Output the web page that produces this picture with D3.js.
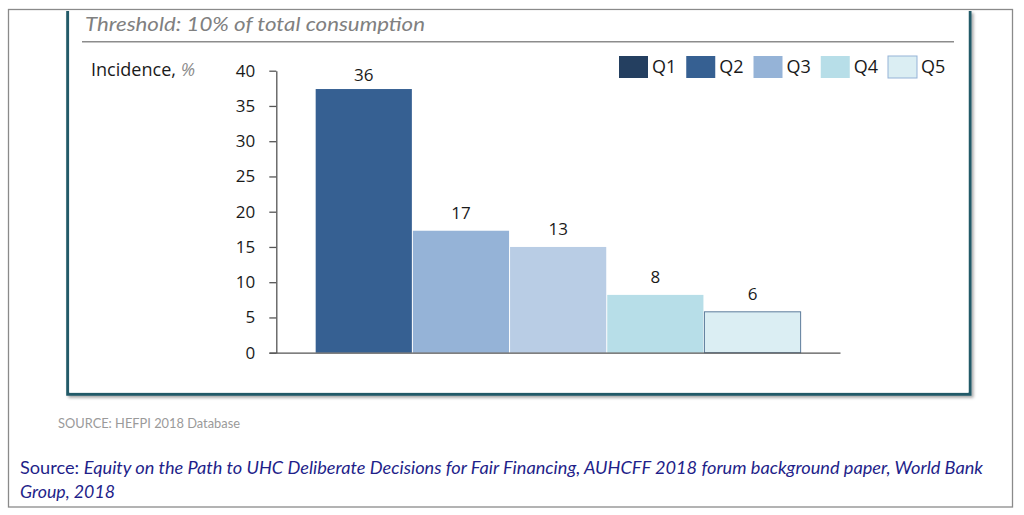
<!DOCTYPE html>
<html>
<head>
<meta charset="utf-8">
<script src="https://cdn.jsdelivr.net/npm/d3@7"></script>
<style>
  html, body { margin: 0; padding: 0; background: #fff; }
  svg { display: block; }
</style>
</head>
<body>
<svg id="chart" width="1024" height="515"></svg>
<script>
// ---- data ----
const categories = ["Q1", "Q2", "Q3", "Q4", "Q5"];
const barValues = [37.4, 17.3, 15.0, 8.2, 5.8];
const barLabels = ["36", "17", "13", "8", "6"];
const barColors = ["#366092", "#95b3d7", "#b9cde5", "#b7dee8", "#dbeef3"];
const legendLabels = ["Q1", "Q2", "Q3", "Q4", "Q5"];
const legendColors = ["#243f60", "#366092", "#95b3d7", "#b7dee8", "#dbeef3"];
const yTicks = [0, 5, 10, 15, 20, 25, 30, 35, 40];
const titleText = "Threshold: 10% of total consumption";
const yLabelText = "Incidence, ";
const dataSourceText = "SOURCE: HEFPI 2018 Database";
const sourceLine1 = "Equity on the Path to UHC Deliberate Decisions for Fair Financing, AUHCFF 2018 forum background paper, World Bank";
const sourceLine2 = "Group, 2018";

const svg = d3.select("#chart");
const defs = svg.append("defs");
const f = defs.append("filter").attr("id", "shadow").attr("x", "-5%").attr("y", "-5%").attr("width", "110%").attr("height", "110%");
f.append("feDropShadow").attr("dx", 2).attr("dy", 2).attr("stdDeviation", 1.5).attr("flood-color", "#000").attr("flood-opacity", 0.35);

// outer frame
svg.append("rect").attr("x", 8.5).attr("y", 9.5).attr("width", 1004).attr("height", 497.5)
  .attr("fill", "#fff").attr("stroke", "#8a8a8a").attr("stroke-width", 1.3);

// inner box (teal, top cropped)
svg.append("path")
  .attr("d", "M67.7,11 L67.7,394.3 L970,394.3 L970,11")
  .attr("fill", "#fff").attr("stroke", "#215a68").attr("stroke-width", 3)
  .attr("filter", "url(#shadow)");
svg.append("rect").attr("x", 69.5).attr("y", 10.5).attr("width", 899).attr("height", 382).attr("fill", "#fff");

// title
svg.append("text").attr("x", 85).attr("y", 31)
  .attr("font-family", "Lato, 'Open Sans', sans-serif").attr("font-style", "italic")
  .attr("font-size", 20).attr("fill", "#808080")
  .attr("textLength", 340).attr("lengthAdjust", "spacingAndGlyphs")
  .text(titleText);
svg.append("line").attr("x1", 82).attr("x2", 954).attr("y1", 41.7).attr("y2", 41.7)
  .attr("stroke", "#8c8c8c").attr("stroke-width", 1.6);

// scales
const x = d3.scaleBand().domain(categories).range([276.3, 840]).paddingInner(0).paddingOuter(0.4);
const y = d3.scaleLinear().domain([0, 40]).range([352.7, 70.7]);

// y axis label
const yl = svg.append("text").attr("x", 91).attr("y", 76)
  .attr("font-family", "'Open Sans', sans-serif").attr("font-size", 17.5).attr("fill", "#1a1a1a")
  .attr("textLength", 104).attr("lengthAdjust", "spacingAndGlyphs");
yl.append("tspan").text(yLabelText);
yl.append("tspan").attr("font-style", "italic").attr("fill", "#8c8c8c").text("%");

// bars
const g = svg.append("g");
g.selectAll("rect.bar").data(categories).enter().append("rect")
  .attr("class", "bar")
  .attr("x", (d) => x(d) + 0.5)
  .attr("width", x.bandwidth() - 1)
  .attr("y", (d, i) => y(barValues[i]))
  .attr("height", (d, i) => y(0) - y(barValues[i]))
  .attr("fill", (d, i) => barColors[i])
  .attr("stroke", (d, i) => i === 4 ? "#5d7c9b" : "none")
  .attr("stroke-width", 1);

// value labels
g.selectAll("text.val").data(categories).enter().append("text")
  .attr("class", "val")
  .attr("x", (d) => x(d) + x.bandwidth() / 2)
  .attr("y", (d, i) => y(barValues[i]) - (i === 0 ? 8 : 12))
  .attr("text-anchor", "middle")
  .attr("font-family", "'Open Sans', sans-serif").attr("font-size", 17).attr("fill", "#1a1a1a")
  .text((d, i) => barLabels[i]);

// y axis
const yAxis = d3.axisLeft(y).tickValues(yTicks).tickSize(7).tickPadding(14).tickSizeOuter(0);
const ya = svg.append("g").attr("transform", "translate(276.3,0)").call(yAxis);
ya.select(".domain").attr("stroke", "#555").attr("stroke-width", 1.3);
ya.selectAll(".tick line").attr("stroke", "#555").attr("stroke-width", 1.3);
ya.selectAll(".tick text").attr("font-family", "'Open Sans', sans-serif").attr("font-size", 17).attr("fill", "#1a1a1a");

// x axis baseline
const xa = svg.append("g").attr("transform", `translate(0,${y(0)})`)
  .call(d3.axisBottom(d3.scaleLinear().domain([0, 1]).range([269, 840])).tickValues([]).tickSizeOuter(0));
xa.select(".domain").attr("stroke", "#555").attr("stroke-width", 1.3);

// legend
const lg = svg.append("g");
const lx = d3.scalePoint().domain(legendLabels).range([619, 888]);
const items = lg.selectAll("g.item").data(legendLabels).enter().append("g")
  .attr("transform", (d) => `translate(${lx(d)},56)`);
items.append("rect").attr("width", 29).attr("height", 22)
  .attr("fill", (d, i) => legendColors[i])
  .attr("stroke", (d, i) => i === 4 ? "#95b3d7" : "none").attr("stroke-width", 1);
items.append("text").attr("x", 33).attr("y", 16.5)
  .attr("font-family", "'Open Sans', sans-serif").attr("font-size", 18).attr("fill", "#1a1a1a")
  .text((d) => d);

// footers
svg.append("text").attr("x", 58).attr("y", 427.5)
  .attr("font-family", "Lato, sans-serif").attr("font-size", 13.5).attr("fill", "#9a9a9a")
  .attr("textLength", 182).attr("lengthAdjust", "spacingAndGlyphs")
  .text(dataSourceText);

const s1 = svg.append("text").attr("x", 20).attr("y", 473.5)
  .attr("font-family", "Lato, sans-serif").attr("font-size", 18).attr("fill", "#1f1f8a")
  .attr("textLength", 963).attr("lengthAdjust", "spacingAndGlyphs");
s1.append("tspan").text("Source: ");
s1.append("tspan").attr("font-style", "italic").text(sourceLine1);

svg.append("text").attr("x", 20).attr("y", 497.5)
  .attr("font-family", "Lato, sans-serif").attr("font-size", 18).attr("font-style", "italic").attr("fill", "#1f1f8a")
  .attr("textLength", 95).attr("lengthAdjust", "spacingAndGlyphs")
  .text(sourceLine2);
</script>
</body>
</html>
